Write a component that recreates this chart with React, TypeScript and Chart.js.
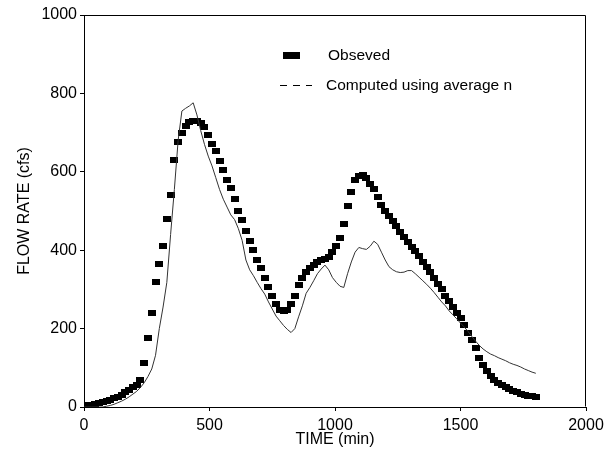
import React, { useEffect, useRef } from "react";
import { Chart, registerables } from "chart.js";

Chart.register(...registerables);

// ---- Data ----
const TIMES_MIN = [
  0, 15, 30, 45, 60, 75, 90, 105, 120, 135, 150, 165, 180, 195, 210, 225, 240, 255, 270, 285,
  300, 315, 330, 345, 360, 375, 390, 405, 420, 435, 450, 465, 480, 495, 510, 525, 540, 555, 570, 585,
  600, 615, 630, 645, 660, 675, 690, 705, 720, 735, 750, 765, 780, 795, 810, 825, 840, 855, 870, 885,
  900, 915, 930, 945, 960, 975, 990, 1005, 1020, 1035, 1050, 1065, 1080, 1095, 1110, 1125, 1140, 1155, 1170, 1185,
  1200, 1215, 1230, 1245, 1260, 1275, 1290, 1305, 1320, 1335, 1350, 1365, 1380, 1395, 1410, 1425, 1440, 1455, 1470, 1485,
  1500, 1515, 1530, 1545, 1560, 1575, 1590, 1605, 1620, 1635, 1650, 1665, 1680, 1695, 1710, 1725, 1740, 1755, 1770, 1785,
  1800,
];

const OBSERVED_CFS = [
  5, 5, 6, 8, 10, 12, 15, 18, 22, 26, 31, 37, 43, 50, 57, 68, 112, 176, 240, 318,
  365, 410, 480, 540, 630, 675, 700, 718, 726, 730, 729, 724, 715, 695, 672, 652, 628, 605, 580, 558,
  530, 500, 477, 450, 424, 400, 375, 355, 330, 305, 282, 262, 248, 245, 248, 262, 282, 312, 330, 345,
  355, 362, 370, 374, 378, 383, 395, 410, 432, 468, 512, 548, 578, 590, 592, 585, 570, 556, 535, 515,
  500, 487, 474, 461, 447, 434, 421, 409, 397, 384, 371, 358, 344, 330, 315, 300, 284, 270, 256, 241,
  226, 210, 190, 170, 150, 125, 106, 92, 80, 69, 62, 55, 50, 45, 40, 37, 34, 31, 29, 27,
  25,
];

const COMPUTED_CFS = [
  0, 0, 0, 0, 0, 0, 2, 4, 7, 11, 15, 20, 26, 33, 40, 50, 62, 78, 97, 132,
  200, 255, 318, 440, 555, 680, 755, 762, 768, 776, 745, 705, 670, 640, 615, 585, 555, 530, 510, 490,
  478, 455, 425, 375, 350, 335, 318, 302, 288, 268, 250, 232, 220, 208, 198, 190, 200, 230, 258, 290,
  305, 322, 340, 352, 362, 350, 330, 318, 308, 305, 340, 370, 395, 407, 404, 402, 410, 423, 415, 395,
  375, 358, 350, 345, 343, 344, 348, 348, 340, 331, 322, 313, 303, 292, 280, 268, 258, 245, 235, 225,
  214, 204, 193, 180, 168, 157, 148, 141, 135, 131, 126, 122, 118, 113, 109, 106, 102, 97, 93, 89,
  86,
];

const SERIES_LABELS = ["Obseved", "Computed using average n"];
const X_TITLE = "TIME (min)";
const Y_TITLE = "FLOW RATE (cfs)";
const X_MIN = 0;
const X_MAX = 2000;
const X_STEP = 500;
const Y_MIN = 0;
const Y_MAX = 1000;
const Y_STEP = 200;

const FONT_FAMILY = '"Liberation Sans", Arial, Helvetica, sans-serif';

const framePlugin = {
  id: "frame",
  afterDraw(chart: any) {
    const { ctx, chartArea: a } = chart;
    ctx.save();
    ctx.strokeStyle = "#000";
    ctx.lineWidth = 1;
    ctx.beginPath();
    ctx.moveTo(Math.round(a.left) + 0.5, Math.round(a.top) + 0.5);
    ctx.lineTo(Math.round(a.right) - 0.5, Math.round(a.top) + 0.5);
    ctx.lineTo(Math.round(a.right) - 0.5, Math.round(a.bottom) - 0.5);
    ctx.stroke();
    ctx.restore();
  },
};

const legendPlugin = {
  id: "customLegend",
  afterDraw(chart: any) {
    const { ctx, chartArea: a } = chart;
    const observedLabel = chart.data.datasets[1].label;
    const computedLabel = chart.data.datasets[0].label;
    ctx.save();
    ctx.fillStyle = "#000";
    ctx.fillRect(a.left + 199, a.top + 37, 17, 7);
    ctx.strokeStyle = "#000";
    ctx.lineWidth = 1;
    ctx.setLineDash([7, 6]);
    ctx.beginPath();
    ctx.moveTo(a.left + 196, a.top + 70.5);
    ctx.lineTo(a.left + 228, a.top + 70.5);
    ctx.stroke();
    ctx.setLineDash([]);
    ctx.font = `15.5px ${FONT_FAMILY}`;
    ctx.textBaseline = "middle";
    ctx.textAlign = "left";
    ctx.fillText(observedLabel, a.left + 244, a.top + 41);
    ctx.fillText(computedLabel, a.left + 242, a.top + 71);
    ctx.restore();
  },
};

export default function App() {
  const canvasRef = useRef<HTMLCanvasElement | null>(null);

  useEffect(() => {
    const canvas = canvasRef.current;
    if (!canvas) return;

    const marker = document.createElement("canvas");
    marker.width = 8;
    marker.height = 6;
    const mctx = marker.getContext("2d");
    if (mctx) {
      mctx.fillStyle = "#000";
      mctx.fillRect(0, 0, 8, 6);
    }

    Chart.defaults.font.family = FONT_FAMILY;
    Chart.defaults.font.size = 16;
    Chart.defaults.color = "#000";

    const computed = TIMES_MIN.map((t, i) => ({ x: t, y: COMPUTED_CFS[i] }));
    const observed = TIMES_MIN.map((t, i) => ({ x: t, y: OBSERVED_CFS[i] }));

    const chart = new Chart(canvas, {
      type: "scatter",
      data: {
        datasets: [
          {
            label: SERIES_LABELS[1],
            data: computed,
            showLine: true,
            borderColor: "#333",
            borderWidth: 1,
            pointRadius: 0,
            tension: 0,
          },
          {
            label: SERIES_LABELS[0],
            data: observed,
            showLine: false,
            pointStyle: marker as any,
            pointRadius: 4,
            backgroundColor: "#000",
            borderColor: "#000",
          },
        ],
      },
      options: {
        responsive: false,
        animation: false,
        events: [],
        layout: { padding: { top: 15, right: 26, left: 0, bottom: 0 } },
        plugins: {
          legend: { display: false },
          tooltip: { enabled: false },
        },
        scales: {
          x: {
            type: "linear",
            min: X_MIN,
            max: X_MAX,
            ticks: {
              stepSize: X_STEP,
              padding: 5,
              color: "#000",
              font: { size: 16 },
              callback: (v: any) => String(v),
            },
            grid: { drawOnChartArea: false, drawTicks: true, tickLength: 4, color: "#000" },
            border: { color: "#000", width: 1 },
            title: {
              display: true,
              text: X_TITLE,
              color: "#000",
              font: { size: 16 },
              padding: { top: 0, bottom: 2 },
            },
            afterFit(scale: any) {
              scale.height = 44;
            },
          },
          y: {
            type: "linear",
            min: Y_MIN,
            max: Y_MAX,
            ticks: {
              stepSize: Y_STEP,
              padding: 3,
              color: "#000",
              font: { size: 16 },
              callback: (v: any) => String(v),
            },
            grid: { drawOnChartArea: false, drawTicks: true, tickLength: 4, color: "#000" },
            border: { color: "#000", width: 1 },
            title: {
              display: true,
              text: Y_TITLE,
              color: "#000",
              font: { size: 16 },
              padding: { top: 15, bottom: 0 },
            },
            afterFit(scale: any) {
              scale.width = 84;
            },
          },
        },
      },
      plugins: [framePlugin, legendPlugin],
    });

    return () => {
      chart.destroy();
    };
  }, []);

  return (
    <div
      style={{
        position: "fixed",
        left: 0,
        top: 0,
        width: 612,
        height: 451,
        background: "#fff",
      }}
    >
      <canvas ref={canvasRef} width={612} height={451} style={{ display: "block" }} />
    </div>
  );
}
